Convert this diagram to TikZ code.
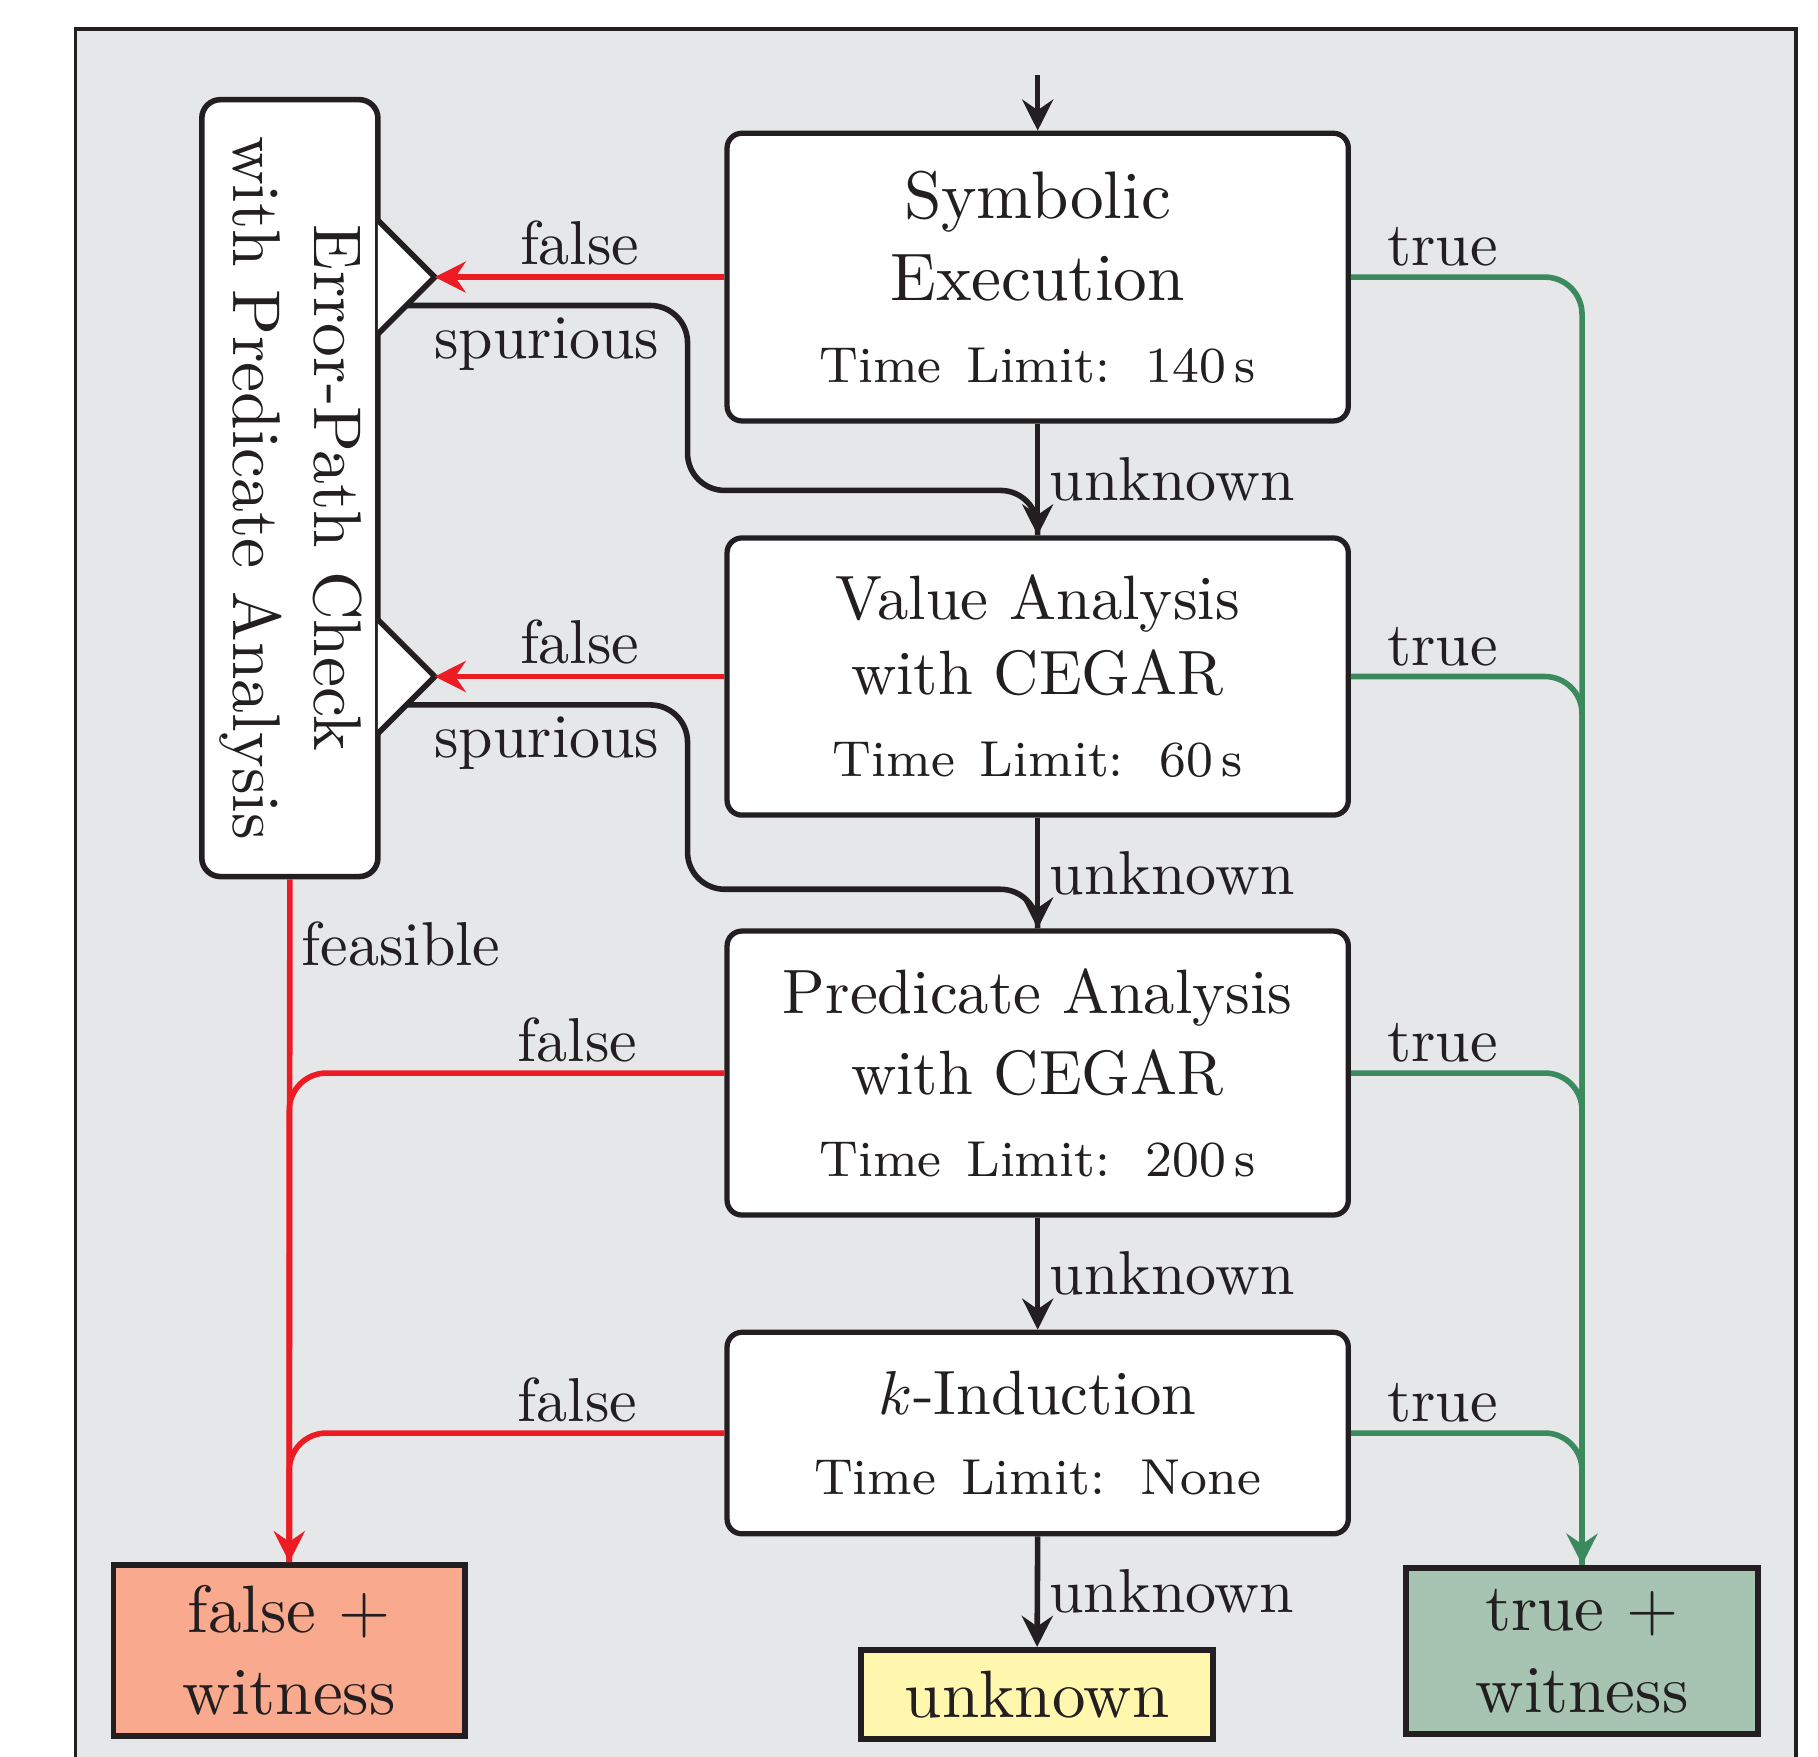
\documentclass[tikz,border=0pt]{standalone}
\usepackage{graphicx}
\usetikzlibrary{arrows.meta,calc}
\definecolor{bggray}{RGB}{230,231,232}
\definecolor{ink}{RGB}{35,31,32}
\definecolor{salmonbox}{RGB}{248,169,142}
\definecolor{yellowbox}{RGB}{255,247,173}
\definecolor{greenbox}{RGB}{166,196,177}
\definecolor{redline}{RGB}{237,28,36}
\definecolor{greenline}{RGB}{58,138,94}
\newcommand{\tlim}[1]{{\fontsize{8.15}{9.8}\selectfont Time\hspace{4pt}Limit:\hspace{5.7pt}#1}}
\tikzset{
  proc/.style={draw=ink, line width=0.85pt, fill=white, rounded corners=2.4pt,
    minimum width=100.2pt, inner sep=0pt, align=center, text=ink},
  term/.style={draw=ink, line width=0.95pt, minimum width=56.7pt, inner sep=0pt,
    align=center, text=ink, font=\fontsize{10.8}{13.2}\selectfont},
  conn/.style={line width=0.9pt, draw=ink, rounded corners=6pt},
  redc/.style={conn, draw=redline},
  greenc/.style={conn, draw=greenline},
  tip/.style={-{Stealth[length=5pt,width=5pt,inset=1.7pt]}},
  lbl/.style={text=ink, font=\fontsize{10}{12}\selectfont, inner sep=1.5pt},
}
\begin{document}
\begin{tikzpicture}[x=0.187pt, y=-0.187pt]
\useasboundingbox (0,0) rectangle (1568,1515);
% background frame
\begin{scope}
\clip (0,0) rectangle (1568,1515);
\draw[fill=bggray, draw=ink, line width=0.5pt] (65,25) rectangle (1549,1560);
\end{scope}

% main boxes
\node[proc, minimum height=46.4pt, font=\fontsize{10.85}{13.3}\selectfont] (SE) at (895,239)
  {Symbolic\\Execution\\[-0.2pt]\tlim{140\,s}};
\node[proc, minimum height=44.7pt, font=\fontsize{10.1}{13.2}\selectfont] (VA) at (895,583.5)
  {Value Analysis\\[-1.1pt]with CEGAR\\\tlim{60\,s}};
\node[proc, minimum height=45.8pt, font=\fontsize{10.1}{13.2}\selectfont] (PA) at (895,925.5)
  {Predicate Analysis\\with CEGAR\\\tlim{200\,s}};
\node[proc, minimum height=32.5pt, font=\fontsize{10.1}{13.05}\selectfont] (KI) at (895,1236)
  {$k$-Induction\\\tlim{None}};

% error path check box
\node[draw=ink, line width=0.9pt, fill=white, rounded corners=3pt, text=ink,
  minimum width=28.4pt, minimum height=125.3pt, inner sep=0pt] (EP) at (250,421)
  {\rotatebox{-90}{\fontsize{10.9}{13.1}\selectfont\begin{tabular}{@{}c@{}}Error-Path Check\\with Predicate Analysis\end{tabular}}};

% terminal boxes
\node[term, fill=salmonbox, minimum height=27.5pt] (FW) at (249.5,1423.5) {false +\\witness};
\node[term, fill=yellowbox, minimum height=14.4pt] (UK) at (894.5,1461.5) {unknown};
\node[term, fill=greenbox, minimum height=26.9pt] (TW) at (1364.5,1424) {true +\\witness};

% input triangles
\coordinate (t1a) at (326,190);
\coordinate (tip1) at (375,239);
\coordinate (t1b) at (326,288);
\coordinate (t2a) at (326,534.5);
\coordinate (tip2) at (375,583.5);
\coordinate (t2b) at (326,632.5);
\draw[fill=white, draw=ink, line width=0.9pt, line join=miter] (t1a) -- (tip1) -- (t1b);
\draw[fill=white, draw=ink, line width=0.9pt, line join=miter] (t2a) -- (tip2) -- (t2b);
\coordinate (s1) at ($(tip1)!0.5!(t1b)$);
\coordinate (s2) at ($(tip2)!0.5!(t2b)$);
\coordinate (start) at (895,65);

% spurious paths
\draw[conn] (s1) -- node[lbl, below] {spurious} (593,263.5) -- (593,423) -- (895,423) -- (VA.north);
\draw[conn] (s2) -- node[lbl, below] {spurious} (593,608) -- (593,767) -- (895,767) -- (PA.north);

% unknown chain
\draw[conn, tip] (start) -- (SE.north);
\draw[conn, tip] (SE.south) -- node[lbl, right] {unknown} (VA.north);
\draw[conn, tip] (VA.south) -- node[lbl, right] {unknown} (PA.north);
\draw[conn, tip] (PA.south) -- node[lbl, right] {unknown} (KI.north);
\draw[conn, tip] (KI.south) -- node[lbl, right] {unknown} (UK.north);

% false paths
\draw[redc, tip] (SE.west) -- node[lbl, above] {false} (tip1);
\draw[redc, tip] (VA.west) -- node[lbl, above] {false} (tip2);
\draw[redc] (PA.west) -- (PA.west -| FW.north) -- (FW.north);
\draw[redc] (KI.west) -- (KI.west -| FW.north) -- (FW.north);
\draw[redc, tip] (EP.south) -- node[lbl, right, pos=0.094] {feasible} (FW.north);
\node[lbl, above] (fl3) at (498,925.5) {false};
\node[lbl, above] (fl4) at (498,1236) {false};

% true paths
\draw[greenc] (VA.east) -- (VA.east -| TW.north) -- (TW.north);
\draw[greenc] (PA.east) -- (PA.east -| TW.north) -- (TW.north);
\draw[greenc] (KI.east) -- (KI.east -| TW.north) -- (TW.north);
\draw[greenc, tip] (SE.east) -- (SE.east -| TW.north) -- (TW.north);
\node[lbl, above] (tr1) at (1244,239) {true};
\node[lbl, above] (tr2) at (1244,583.5) {true};
\node[lbl, above] (tr3) at (1244,925.5) {true};
\node[lbl, above] (tr4) at (1244,1236) {true};
\end{tikzpicture}
\end{document}
